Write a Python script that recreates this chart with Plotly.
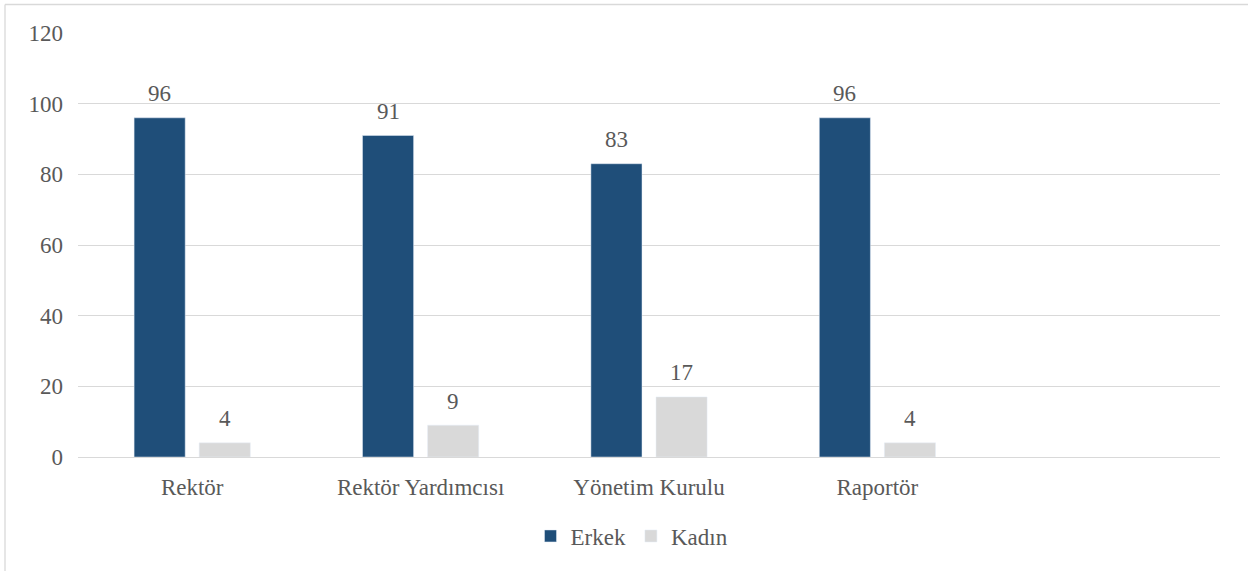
import plotly.graph_objects as go

categories = ["Rektör", "Rektör Yardımcısı", "Yönetim Kurulu", "Raportör"]
erkek = [96, 91, 83, 96]
kadin = [4, 9, 17, 4]
y_ticks = [0, 20, 40, 60, 80, 100, 120]

FONT = "Liberation Serif"
TXT = "#595959"
FS = 23

fig = go.Figure()
fig.add_trace(go.Bar(name="Erkek", x=categories, y=erkek, marker_color="#1f4e79"))
fig.add_trace(go.Bar(name="Kadın", x=categories, y=kadin, marker_color="#d9d9d9"))

W, H = 1248, 571
L, R, T, B = 78, 28, 33, 114
pw, ph = W - L - R, H - T - B

def px(x):
    return (x - L) / pw

def py(y):
    return (H - B - y) / ph

# data labels above bars (grouped offset in category units)
off = 0.142
annotations = []
for i, cat in enumerate(categories):
    for vals, d in ((erkek, -off), (kadin, off)):
        annotations.append(dict(
            x=i + d, y=vals[i], xref="x", yref="y", text=str(vals[i]),
            showarrow=False, yanchor="middle", xanchor="center", yshift=24,
            font=dict(family=FONT, size=FS, color=TXT)))

fig.update_layout(
    width=W, height=H,
    margin=dict(l=L, r=R, t=T, b=B),
    paper_bgcolor="white", plot_bgcolor="white",
    barmode="group", bargap=0.43, bargroupgap=0.215,
    font=dict(family=FONT, size=FS, color=TXT),
    showlegend=True,
    legend=dict(orientation="h", x=px(632), xanchor="center", y=py(536), yanchor="middle",
                font=dict(family=FONT, size=FS, color=TXT), itemwidth=30,
                traceorder="normal"),
    xaxis=dict(range=[-0.5, 4.5], showgrid=False, showline=False, zeroline=False,
               ticks="", ticklabelstandoff=14,
               tickfont=dict(family=FONT, size=FS, color=TXT)),
    yaxis=dict(range=[0, 120], tickvals=y_ticks, showgrid=True, gridcolor="#d9d9d9",
               gridwidth=1.3, zeroline=True, zerolinecolor="#d9d9d9", zerolinewidth=1.3,
               showline=False, ticks="", ticklabelstandoff=14,
               tickfont=dict(family=FONT, size=FS, color=TXT)),
    annotations=annotations,
    shapes=[
        dict(type="line", xref="paper", yref="paper", x0=px(5), x1=px(1248), y0=py(4.5), y1=py(4.5),
             line=dict(color="#d9d9d9", width=1.3)),
        dict(type="line", xref="paper", yref="paper", x0=px(5), x1=px(5), y0=py(4.5), y1=py(571),
             line=dict(color="#d9d9d9", width=1.3)),
    ],
)

fig.write_html("out.html", config={"displayModeBar": False},
               post_script="document.body.style.margin='0px';")
